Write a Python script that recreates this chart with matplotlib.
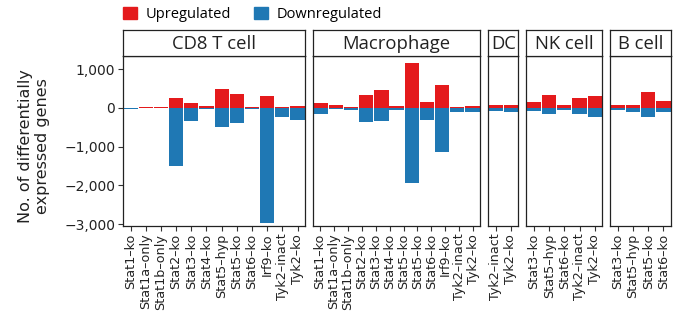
import numpy as np
import matplotlib.pyplot as plt
from matplotlib.patches import Patch
from matplotlib.ticker import FuncFormatter

# values (number of genes)
cell_types = ['CD8 T cell', 'Macrophage', 'DC', 'NK cell', 'B cell']

cd8_labels = ['Stat1–ko', 'Stat1a–only', 'Stat1b–only', 'Stat2–ko', 'Stat3–ko', 'Stat4–ko',
              'Stat5–hyp', 'Stat5–ko', 'Stat6–ko', 'Irf9–ko', 'Tyk2–inact', 'Tyk2–ko']
cd8_up = [0, 30, 15, 265, 130, 60, 475, 360, 35, 310, 35, 60]
cd8_down = [-40, 0, -10, -1490, -330, -25, -490, -390, -25, -2975, -230, -310]

mac_labels = ['Stat1–ko', 'Stat1a–only', 'Stat1b–only', 'Stat2–ko', 'Stat3–ko', 'Stat4–ko',
              'Stat5–ko', 'Stat5–ko', 'Stat6–ko', 'Irf9–ko', 'Tyk2–inact', 'Tyk2–ko']
mac_up = [130, 75, 35, 335, 465, 60, 1165, 155, 595, 25, 50]
mac_down = [-155, -25, -50, -360, -335, -50, -1930, -300, -1130, -95, -95]

dc_labels = ['Tyk2–inact', 'Tyk2–ko']
dc_up = [75, 75]
dc_down = [-70, -95]

nk_labels = ['Stat3–ko', 'Stat5–hyp', 'Stat6–ko', 'Tyk2–inact', 'Tyk2–ko']
nk_up = [155, 335, 75, 260, 310]
nk_down = [-70, -170, -45, -170, -225]

b_labels = ['Stat3–ko', 'Stat5–hyp', 'Stat5–ko', 'Stat6–ko']
b_up = [75, 75, 415, 180]
b_down = [-45, -95, -225, -95]

panels = [
    (cd8_labels, cd8_up, cd8_down),
    (mac_labels, mac_up, mac_down),
    (dc_labels, dc_up, dc_down),
    (nk_labels, nk_up, nk_down),
    (b_labels, b_up, b_down),
]

red = '#e41a1c'
blue = '#1f78b4'
W, H = 678, 324

plt.rcParams['font.family'] = ['DejaVu Sans']
fig = plt.figure(figsize=(W / 100, H / 100), dpi=100)

left_px, right_px = 123, 671
gap_px = 8
top_px, bottom_px = 56, 226
strip_top = 30
nbars = [len(p[1]) for p in panels]
per_bar = (right_px - left_px - gap_px * (len(panels) - 1)) / sum(nbars)

x0 = left_px
for i, (labels, up, down) in enumerate(panels):
    n = len(up)
    w = n * per_bar
    ax = fig.add_axes([x0 / W, 1 - bottom_px / H, w / W, (bottom_px - top_px) / H])
    x = np.arange(n)
    ax.bar(x, up, width=0.94, color=red)
    ax.bar(x, down, width=0.94, color=blue)
    ax.set_xlim(-0.5, n - 0.5)
    ax.set_ylim(-3050, 1340)
    # labels spread evenly over the panel (macrophage has one more label than bars)
    nl = len(labels)
    ticks = -0.5 + (np.arange(nl) + 0.5) * n / nl
    ax.set_xticks(ticks)
    ax.set_xticklabels(labels, rotation=90, fontsize=9.2, color='#222222')
    ax.tick_params(axis='x', length=3.5, width=0.8, pad=2, color='#333333')
    ax.set_yticks([1000, 0, -1000, -2000, -3000])
    if i == 0:
        ax.yaxis.set_major_formatter(FuncFormatter(lambda v, p: f'{v:,.0f}'.replace('-', '−')))
        ax.tick_params(axis='y', length=3.5, width=0.8, labelsize=10, pad=2, color='#333333',
                       labelcolor='#222222')
    else:
        ax.tick_params(axis='y', left=False, labelleft=False)
    for s in ax.spines.values():
        s.set_linewidth(0.9)
        s.set_color('#222222')

    sax = fig.add_axes([x0 / W, 1 - top_px / H, w / W, (top_px - strip_top) / H])
    sax.set_xticks([])
    sax.set_yticks([])
    for s in sax.spines.values():
        s.set_linewidth(0.9)
        s.set_color('#222222')
    sax.text(0.5, 0.45, cell_types[i], ha='center', va='center', fontsize=13.3,
             family=['Open Sans', 'DejaVu Sans'], color='#222222', transform=sax.transAxes)
    x0 += w + gap_px

fig.text(34 / W, 1 - 146 / H, 'No. of differentially\nexpressed genes', rotation=90,
         ha='center', va='center', multialignment='center', fontsize=11.5, color='#222222')

handles = [Patch(color=red, label='Upregulated'), Patch(color=blue, label='Downregulated')]
fig.legend(handles=handles, loc='center left', bbox_to_anchor=(110 / W, 1 - 14.5 / H), ncol=2,
           frameon=False, handlelength=0.95, handleheight=0.95, handletextpad=0.6,
           columnspacing=1.6, prop={'family': ['Open Sans', 'DejaVu Sans'], 'size': 10.5})

fig.savefig('out.png', dpi=100)
